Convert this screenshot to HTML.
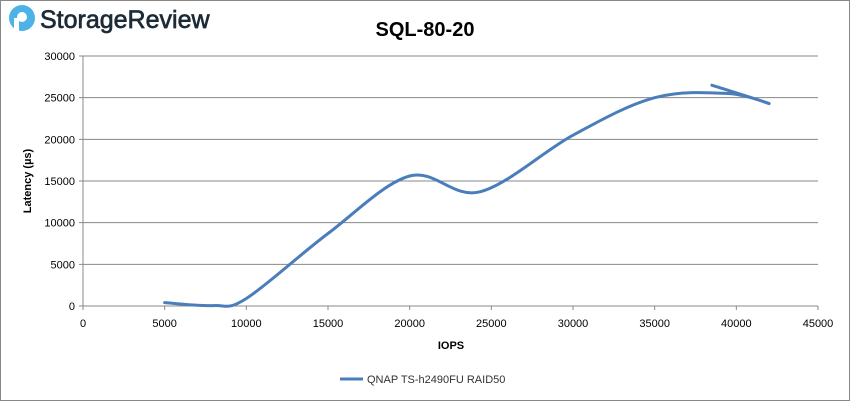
<!DOCTYPE html>
<html><head><meta charset="utf-8"><style>
body{margin:0;background:#fff;font-family:"Liberation Sans",sans-serif}
#wrap{position:relative;width:850px;height:401px;overflow:hidden}
</style></head><body>
<div id="wrap">
<svg id="chart" width="850" height="401">
<rect x="0.5" y="0.5" width="849" height="400" fill="#fff" stroke="#888"/>
<g>
<circle cx="22" cy="18" r="13" fill="#4db3e6"/>
<circle cx="22" cy="17" r="5" fill="#fff"/>
<rect x="14" y="18" width="5" height="13" fill="#fff"/>
<text x="40" y="28" font-size="25" fill="#1c2b36" stroke="#1c2b36" stroke-width="0.7" font-family="'Liberation Sans',sans-serif">StorageReview</text>
</g>
<text x="425" y="36" text-anchor="middle" font-size="20" font-weight="bold" fill="#000">SQL-80-20</text>
<g id="grid"></g><g id="axes"></g><g id="series"></g>
<text x="451" y="349" text-anchor="middle" font-size="11" font-weight="bold">IOPS</text>
<text transform="translate(31,181) rotate(-90)" text-anchor="middle" font-size="11" font-weight="bold">Latency (µs)</text>
<g>
<line x1="340" y1="379" x2="363" y2="379" stroke="#4a7ebb" stroke-width="3"/>
<text x="367" y="383" font-size="11" fill="#333">QNAP TS-h2490FU RAID50</text>
</g>
</svg></div>
<script>
const xTicks=[0,5000,10000,15000,20000,25000,30000,35000,40000,45000];
const yTicks=[0,5000,10000,15000,20000,25000,30000];
const iops=[5000,8000,10000,15000,20000,24300,30000,35000,39500,42000,38500];
const latency=[400,50,900,8700,15600,13700,20500,25000,25500,24300,26500];
const X0=83,X1=818,Y0=306,Y1=56;
const sx=v=>X0+(v-0)/45000*(X1-X0);
const sy=v=>Y0-(v-0)/30000*(Y0-Y1);
const NS="http://www.w3.org/2000/svg";
const grid=document.getElementById('grid'),axes=document.getElementById('axes'),ser=document.getElementById('series');
function mk(tag,attrs,parent){const e=document.createElementNS(NS,tag);for(const k in attrs)e.setAttribute(k,attrs[k]);parent.appendChild(e);return e;}
yTicks.forEach(t=>{
 const l=mk('line',{x1:X0-4,x2:X1,y1:sy(t),y2:sy(t),stroke:'#888','stroke-width':1},grid);
 
 
 const tx=mk('text',{x:X0-8,y:sy(t)+4,'text-anchor':'end','font-size':11,fill:'#000'},axes);
 tx.textContent=t;
 
 
});
const ax=mk('line',{x1:X0,x2:X0,y1:Y1,y2:Y0+4,stroke:'#888'},axes);


xTicks.forEach(t=>{
 const tk=mk('line',{x1:sx(t),x2:sx(t),y1:Y0,y2:Y0+4,stroke:'#888'},axes);
 
 
 const tx=mk('text',{x:sx(t),y:Y0+21,'text-anchor':'middle','font-size':11,fill:'#000'},axes);
 tx.textContent=t;
 
 
});
const pts=iops.map((v,i)=>[sx(v),sy(latency[i])]);
let d='M'+pts[0][0]+','+pts[0][1];
for(let i=0;i<pts.length-1;i++){
 const p0=pts[Math.max(i-1,0)],p1=pts[i],p2=pts[i+1],p3=pts[Math.min(i+2,pts.length-1)];
 const k=1/6;
 d+=' C'+(p1[0]+(p2[0]-p0[0])*k)+','+(p1[1]+(p2[1]-p0[1])*k)+' '+(p2[0]-(p3[0]-p1[0])*k)+','+(p2[1]-(p3[1]-p1[1])*k)+' '+p2[0]+','+p2[1];
}
const path=mk('path',{d:d,fill:'none',stroke:'#4a7ebb','stroke-width':3,'stroke-linejoin':'round','stroke-linecap':'round'},ser);


</script>
</body></html>
